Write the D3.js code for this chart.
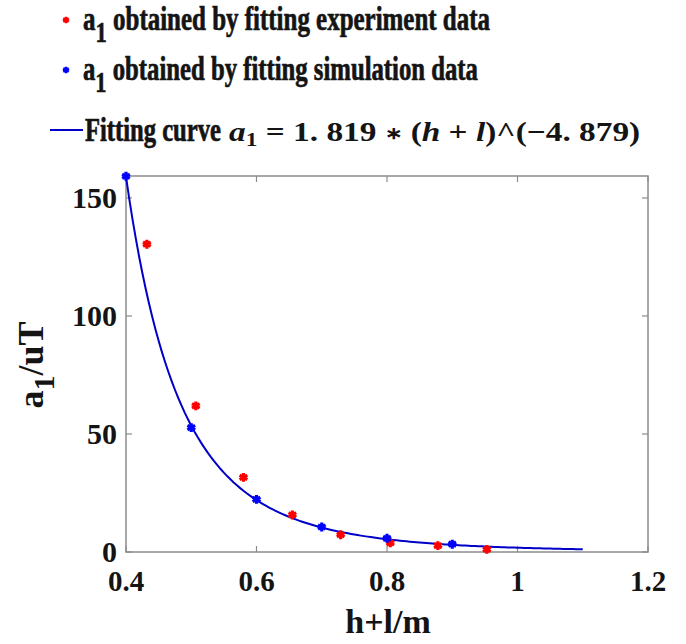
<!DOCTYPE html>
<html>
<head>
<meta charset="utf-8">
<script src="https://cdn.jsdelivr.net/npm/d3@7"></script>
<style>
  body { margin: 0; background: #fff; }
</style>
</head>
<body>
<svg width="686" height="644"></svg>
<script>
// experiment data (red)
var expX = [0.432, 0.507, 0.58, 0.655, 0.729, 0.805, 0.878, 0.953]
var expY = [130.4, 61.9, 31.6, 15.7, 7.3, 3.9, 2.7, 1.1]
// simulation data (blue)
var simX = [0.4, 0.5, 0.6, 0.7, 0.8, 0.9]
var simY = [159.2, 52.7, 22.3, 10.6, 5.8, 3.3]
// fit a1 = 1.819*(h+l)^(-4.879)
var fitA = 1.819
var fitB = -4.879
var fitRange = [0.4, 1.1]
var xTicks = [0.4, 0.6, 0.8, 1, 1.2]
var yTicks = [0, 50, 100, 150]

var FONT = "'Liberation Serif', 'Times New Roman', serif"
var svg = d3.select('svg')

function txt(sel) {
    return sel.style('font-family', FONT).style('font-weight', 'bold').attr('fill', '#141414')
}

var x = d3.scaleLinear().domain([0.4, 1.2]).range([126, 648])
var y = d3.scaleLinear().domain([0, 159.3]).range([552, 176])

var axisColor = '#8c8c8c'

// box
svg.append('rect')
    .attr('x', x(0.4))
    .attr('y', y(159.3))
    .attr('width', x(1.2) - x(0.4))
    .attr('height', y(0) - y(159.3))
    .attr('fill', 'none')
    .attr('stroke', axisColor)
    .attr('stroke-width', 1.5)

// ticks, inward on both sides
xTicks.forEach(function (t) {
    svg.append('line').attr('x1', x(t)).attr('x2', x(t)).attr('y1', y(0)).attr('y2', y(0) - 6)
        .attr('stroke', axisColor).attr('stroke-width', 1.2)
    svg.append('line').attr('x1', x(t)).attr('x2', x(t)).attr('y1', y(159.3)).attr('y2', y(159.3) + 6)
        .attr('stroke', axisColor).attr('stroke-width', 1.2)
    txt(svg.append('text'))
        .text(t)
        .attr('x', x(t))
        .attr('y', 591)
        .attr('text-anchor', 'middle')
        .style('font-size', '29px')
})
yTicks.forEach(function (t) {
    svg.append('line').attr('x1', x(0.4)).attr('x2', x(0.4) + 6).attr('y1', y(t)).attr('y2', y(t))
        .attr('stroke', axisColor).attr('stroke-width', 1.2)
    svg.append('line').attr('x1', x(1.2)).attr('x2', x(1.2) - 6).attr('y1', y(t)).attr('y2', y(t))
        .attr('stroke', axisColor).attr('stroke-width', 1.2)
    txt(svg.append('text'))
        .text(t)
        .attr('x', 117)
        .attr('y', y(t) + 10)
        .attr('text-anchor', 'end')
        .style('font-size', '30px')
})

// axis labels
txt(svg.append('text'))
    .text('h+l/m')
    .attr('x', 388)
    .attr('y', 633)
    .attr('text-anchor', 'middle')
    .style('font-size', '34px')

var yl = txt(svg.append('text'))
    .attr('transform', 'translate(43,365) rotate(-90)')
    .attr('text-anchor', 'middle')
    .style('font-size', '36px')
yl.append('tspan').text('a')
yl.append('tspan').text('1').attr('dy', 11).style('font-size', '30px')
yl.append('tspan').text('/uT').attr('dy', -11)

// fit curve
var fitX = d3.range(fitRange[0], fitRange[1] + 0.0001, 0.005)
var line = d3.line()
    .x(function (d) { return x(d) })
    .y(function (d) { return y(fitA * Math.pow(d, fitB)) })
svg.append('path')
    .datum(fitX)
    .attr('d', line)
    .attr('fill', 'none')
    .attr('stroke', '#0000c8')
    .attr('stroke-width', 2)

var star = d3.symbol().type(d3.symbolAsterisk).size(55)

function markers(xs, ys, color) {
    svg.append('g')
        .selectAll('path')
        .data(xs)
        .enter()
        .append('path')
        .attr('d', star)
        .attr('transform', function (d, i) { return 'translate(' + x(d) + ',' + y(ys[i]) + ')' })
        .attr('stroke', color)
        .attr('stroke-width', 3.2)
        .attr('fill', 'none')
}
markers(expX, expY, '#ff0000')
markers(simX, simY, '#0000ff')

// squeeze a text horizontally so it spans x0..x1 (legend font is condensed)
function fitTo(t, x0, x1) {
    var w = t.node().getBBox().width
    var s = (x1 - x0) / w
    t.attr('x', 0).attr('transform', 'translate(' + x0 + ',0) scale(' + s + ',1)')
}

// legend
var legendItems = [
    { label: ' obtained by fitting experiment data', color: '#ff0000', y: 30, end: 490 },
    { label: ' obtained by fitting simulation data', color: '#0000ff', y: 80, end: 478 }
]
legendItems.forEach(function (d) {
    svg.append('path')
        .attr('d', d3.symbol().type(d3.symbolAsterisk).size(30))
        .attr('transform', 'translate(66,' + (d.y - 10) + ')')
        .attr('stroke', d.color)
        .attr('stroke-width', 2.5)
    var t = txt(svg.append('text'))
        .attr('y', d.y)
        .attr('stroke', '#141414')
        .attr('stroke-width', 0.7)
        .style('font-size', '33px')
    t.append('tspan').text('a')
    t.append('tspan').text('1').attr('dy', 12).style('font-size', '30px')
    t.append('tspan').text(d.label).attr('dy', -12)
    fitTo(t, 83, d.end)
})

svg.append('line')
    .attr('x1', 50).attr('x2', 83)
    .attr('y1', 130).attr('y2', 130)
    .attr('stroke', '#0000c8')
    .attr('stroke-width', 2)

var ft = txt(svg.append('text'))
    .attr('y', 141)
    .attr('stroke', '#141414')
    .attr('stroke-width', 0.7)
    .style('font-size', '33px')
    .text('Fitting curve')
fitTo(ft, 85, 221)

var fm = txt(svg.append('text'))
    .attr('y', 141)
    .style('font-size', '27px')
fm.append('tspan').text('a').style('font-style', 'italic')
fm.append('tspan').text('1').attr('dy', 5).style('font-size', '19px')
fm.append('tspan').text(' = 1. 819 ').attr('dy', -5)
fm.append('tspan').text('\u2217').attr('dy', -2).style('font-size', '17px')
fm.append('tspan').text(' (').attr('dy', 2)
fm.append('tspan').text('h').style('font-style', 'italic')
fm.append('tspan').text(' + ')
fm.append('tspan').text('l').style('font-style', 'italic')
fm.append('tspan').text(')^(\u22124. 879)')
fitTo(fm, 229, 640)
</script>
</body>
</html>
